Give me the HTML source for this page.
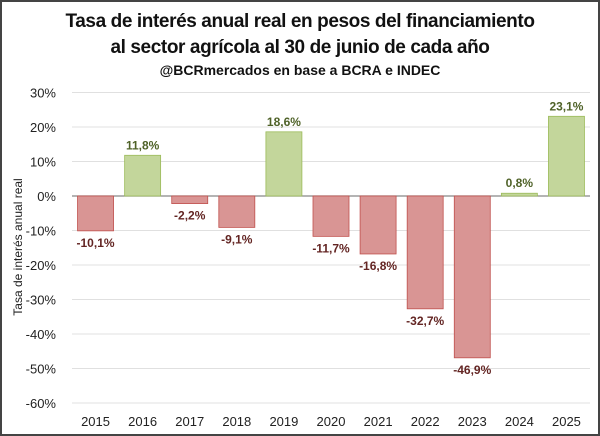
<!DOCTYPE html>
<html><head><meta charset="utf-8"><style>
body{margin:0;background:#fff}
#wrap{position:relative;width:596px;height:432px;border:2px solid #444;overflow:hidden;font-family:"Liberation Sans",sans-serif}
</style></head><body>
<div id="wrap">
<svg id="c" width="596" height="432">
<text x="298" y="25" text-anchor="middle" font-size="19" font-weight="bold" fill="#111" transform="scale(1,1)" style="letter-spacing:-0.4px">Tasa de interés anual real en pesos del financiamiento</text>
<text x="298" y="51" text-anchor="middle" font-size="19" font-weight="bold" fill="#111" style="letter-spacing:-0.4px">al sector agrícola al 30 de junio de cada año</text>
<text x="298" y="73" text-anchor="middle" font-size="14" font-weight="bold" fill="#111">@BCRmercados en base a BCRA e INDEC</text>
<text transform="translate(20,245) rotate(-90)" text-anchor="middle" font-size="12" fill="#222">Tasa de interés anual real</text>
<g id="grid"></g><g id="bars"></g>
</svg>
</div>
<script>
const categories=["2015","2016","2017","2018","2019","2020","2021","2022","2023","2024","2025"];
const values=[-10.1,11.8,-2.2,-9.1,18.6,-11.7,-16.8,-32.7,-46.9,0.8,23.1];
const labels=["-10,1%","11,8%","-2,2%","-9,1%","18,6%","-11,7%","-16,8%","-32,7%","-46,9%","0,8%","23,1%"];
const ticks=[30,20,10,0,-10,-20,-30,-40,-50,-60];
const ns="http://www.w3.org/2000/svg";
const x0=70,x1=588,yTop=90.5,yBot=401,vMax=30,vMin=-60;
const y=v=>yTop+(vMax-v)/(vMax-vMin)*(yBot-yTop);
const band=(x1-x0)/categories.length;
const xc=i=>x0+band*(i+0.5);
function mk(t,a,p){const e=document.createElementNS(ns,t);for(const k in a)e.setAttribute(k,a[k]);p.appendChild(e);return e;}
const g=document.getElementById('grid'),b=document.getElementById('bars');
ticks.forEach(t=>{
  const l=mk('line',{x1:x0,x2:x1,y1:y(t),y2:y(t),stroke:t===0?'#888':'#e0e0e0','stroke-width':t===0?1.2:1},g);
  
  
  const tx=mk('text',{x:54,y:y(t)+5,'text-anchor':'end','font-size':13,fill:'#222'},g);
  tx.textContent=t+'%';
  
  
});
categories.forEach((c,i)=>{
  const v=values[i],pos=v>=0,w=36;
  const r=mk('rect',{x:xc(i)-w/2,y:Math.min(y(v),y(0)),width:w,height:Math.abs(y(v)-y(0)),fill:pos?'#c3d69b':'#d99594',stroke:pos?'#9bbb59':'#c0504d','stroke-width':0.8},b);
  
  
  const lt=mk('text',{x:xc(i),y:pos?y(v)-6:y(v)+16,'text-anchor':'middle','font-size':12,'font-weight':'bold',fill:pos?'#4f6228':'#632523'},b);
  lt.textContent=labels[i];
  
  
  const xt=mk('text',{x:xc(i),y:424,'text-anchor':'middle','font-size':13,fill:'#222'},b);
  xt.textContent=c;
  
  
});
</script>
</body></html>
